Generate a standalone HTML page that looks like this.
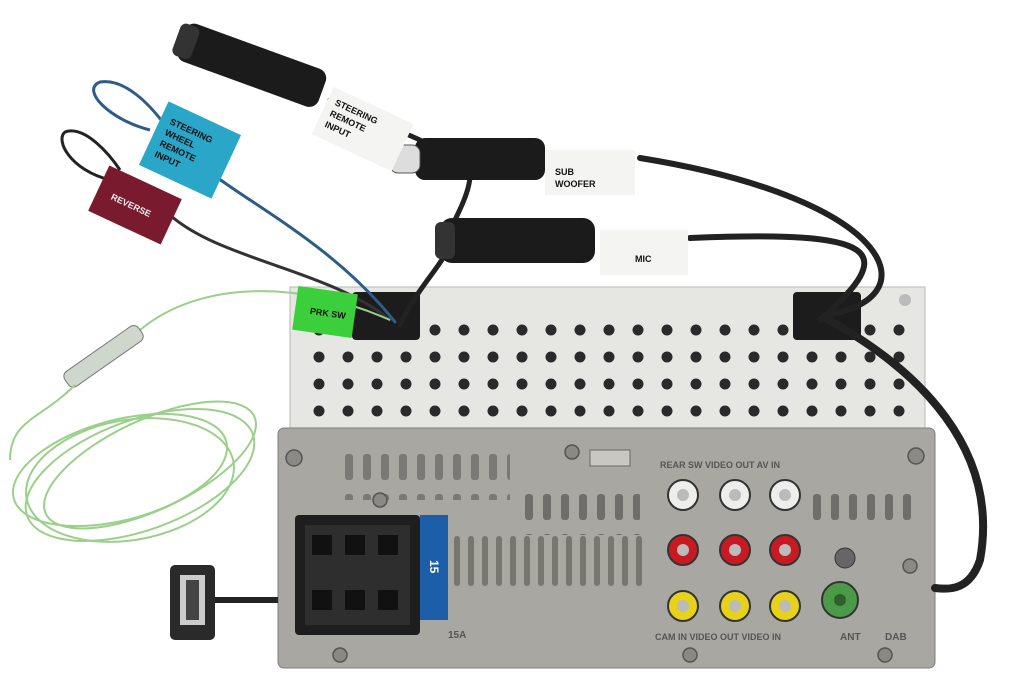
<!DOCTYPE html>
<html><head><meta charset="utf-8"><style>
html,body{margin:0;padding:0;background:#fff;}
svg{display:block}
text{font-family:"Liberation Sans",sans-serif;font-weight:bold}
</style></head><body>
<svg width="1020" height="700" viewBox="0 0 1020 700" xmlns="http://www.w3.org/2000/svg">
<defs>
<pattern id="holes" x="305" y="318" width="29" height="27" patternUnits="userSpaceOnUse">
<circle cx="14" cy="12" r="5.5" fill="#2a2a2a"/>
</pattern>
<pattern id="slots" x="520" y="490" width="18" height="40" patternUnits="userSpaceOnUse">
<rect x="5" y="4" width="8" height="26" rx="3" fill="#6f6e6a"/>
</pattern>
<pattern id="slots2" x="450" y="530" width="14" height="60" patternUnits="userSpaceOnUse">
<rect x="4" y="6" width="6" height="50" rx="3" fill="#77766f"/>
</pattern>
</defs>

<!-- upper chassis -->
<rect x="290" y="287" width="635" height="148" fill="#e6e6e3" stroke="#b8b8b4"/>
<rect x="300" y="312" width="615" height="118" fill="url(#holes)"/>
<rect x="352" y="292" width="68" height="48" rx="4" fill="#1c1c1c"/>
<rect x="793" y="292" width="68" height="48" rx="4" fill="#1c1c1c"/>
<circle cx="905" cy="300" r="6" fill="#bbb"/>

<!-- lower panel -->
<rect x="278" y="428" width="657" height="240" rx="6" fill="#a8a7a2" stroke="#7f7e7a"/>
<rect x="340" y="440" width="170" height="60" fill="url(#slots)" opacity=".8"/>
<rect x="520" y="490" width="120" height="45" fill="url(#slots)"/>
<rect x="450" y="535" width="200" height="60" fill="url(#slots2)"/>
<rect x="810" y="480" width="110" height="45" fill="url(#slots)"/>
<g fill="#8a8984" stroke="#555" stroke-width="1.5">
<circle cx="294" cy="458" r="8"/><circle cx="916" cy="456" r="8"/><circle cx="340" cy="655" r="7"/>
<circle cx="690" cy="655" r="7"/><circle cx="885" cy="655" r="7"/><circle cx="572" cy="452" r="7"/>
<circle cx="380" cy="500" r="7"/><circle cx="910" cy="566" r="7"/>
</g>
<rect x="590" y="450" width="40" height="16" fill="#c8c7c2" stroke="#6a6964"/>
<text x="660" y="468" font-size="9" fill="#555">REAR SW VIDEO OUT AV IN</text>
<text x="655" y="640" font-size="9" fill="#555">CAM IN VIDEO OUT VIDEO IN</text>
<text x="840" y="640" font-size="10" fill="#555">ANT</text>
<text x="885" y="640" font-size="10" fill="#555">DAB</text>
<text x="448" y="638" font-size="10" fill="#555">15A</text>

<!-- ISO block -->
<rect x="295" y="515" width="125" height="120" rx="4" fill="#1e1e1e"/>
<rect x="305" y="525" width="105" height="100" fill="#2e2e2e"/>
<g fill="#111"><rect x="312" y="535" width="20" height="20"/><rect x="345" y="535" width="20" height="20"/><rect x="378" y="535" width="20" height="20"/>
<rect x="312" y="590" width="20" height="20"/><rect x="345" y="590" width="20" height="20"/><rect x="378" y="590" width="20" height="20"/></g>
<rect x="420" y="515" width="28" height="105" fill="#1c5fa8"/>
<text x="430" y="560" font-size="12" fill="#fff" transform="rotate(90 430 560)">15</text>

<!-- RCA -->
<g stroke="#333" stroke-width="2">
<g fill="#eeeeea"><circle cx="683" cy="495" r="15"/><circle cx="735" cy="495" r="15"/><circle cx="785" cy="495" r="15"/></g>
<g fill="#c81a22"><circle cx="683" cy="550" r="15"/><circle cx="735" cy="550" r="15"/><circle cx="785" cy="550" r="15"/></g>
<g fill="#e6d21a"><circle cx="683" cy="606" r="15"/><circle cx="735" cy="606" r="15"/><circle cx="785" cy="606" r="15"/></g>
</g>
<g fill="#bbb"><circle cx="683" cy="495" r="6"/><circle cx="735" cy="495" r="6"/><circle cx="785" cy="495" r="6"/>
<circle cx="683" cy="550" r="6"/><circle cx="735" cy="550" r="6"/><circle cx="785" cy="550" r="6"/>
<circle cx="683" cy="606" r="6"/><circle cx="735" cy="606" r="6"/><circle cx="785" cy="606" r="6"/></g>
<circle cx="840" cy="600" r="18" fill="#4a9a48" stroke="#333" stroke-width="2"/>
<circle cx="840" cy="600" r="6" fill="#2d5e2c"/>
<circle cx="845" cy="558" r="10" fill="#666" stroke="#333"/>

<!-- USB -->
<path d="M215 600 L278 600" stroke="#222" stroke-width="6"/>
<rect x="170" y="565" width="45" height="75" rx="5" fill="#2a2a2a"/>
<rect x="180" y="575" width="25" height="50" fill="#ccc"/>
<rect x="186" y="580" width="13" height="40" fill="#444"/>

<!-- cables -->
<g fill="none" stroke="#222" stroke-linecap="round">
<path d="M825 315 C 930 300, 900 200, 640 158" stroke-width="6"/>
<path d="M820 320 C 900 250, 880 230, 690 238" stroke-width="6"/>
<path d="M825 318 C 920 370, 1000 450, 980 560 C 970 590, 950 590, 935 588" stroke-width="8"/>
<path d="M400 325 C 420 280, 460 250, 450 230" stroke-width="5"/>
<path d="M450 230 C 460 210, 470 190, 470 175" stroke-width="5"/>
<path d="M390 320 C 330 270, 220 260, 170 215" stroke="#333" stroke-width="3"/>
<path d="M395 322 C 330 240, 240 200, 195 160" stroke="#2d5c88" stroke-width="3"/>
<path d="M330 100 L 420 140" stroke-width="5"/>
</g>
<path d="M390 320 C 300 280, 200 280, 140 330" fill="none" stroke="#9ad08a" stroke-width="2"/>
<!-- loops -->
<path d="M150 130 C 110 120, 80 90, 100 82 C 125 78, 150 105, 165 125" fill="none" stroke="#2d5c88" stroke-width="3"/>
<path d="M110 180 C 70 170, 55 140, 65 132 C 85 125, 110 155, 120 170" fill="none" stroke="#222" stroke-width="3"/>

<!-- plugs -->
<g transform="rotate(20 250 70)"><rect x="175" y="45" width="150" height="40" rx="10" fill="#1b1b1b"/><rect x="170" y="48" width="20" height="34" rx="6" fill="#333"/></g>
<rect x="415" y="138" width="130" height="42" rx="10" fill="#1b1b1b"/>
<rect x="390" y="145" width="30" height="28" rx="8" fill="#ddd" stroke="#555"/>
<rect x="440" y="218" width="155" height="45" rx="12" fill="#1b1b1b"/>
<rect x="435" y="222" width="20" height="37" rx="6" fill="#333"/>
<!-- antenna connector & coil -->
<g transform="rotate(-35 100 360)"><rect x="60" y="350" width="90" height="18" rx="6" fill="#cfd6cc" stroke="#777"/></g>
<g fill="none" stroke="#9ad08a" stroke-width="2">
<ellipse cx="120" cy="470" rx="110" ry="50" transform="rotate(-15 120 470)"/>
<ellipse cx="140" cy="475" rx="120" ry="55" transform="rotate(-20 140 475)"/>
<ellipse cx="130" cy="480" rx="105" ry="60" transform="rotate(-10 130 480)"/>
<ellipse cx="150" cy="465" rx="115" ry="45" transform="rotate(-25 150 465)"/>
<path d="M75 385 C 40 420, 10 420, 10 460"/>
</g>

<!-- tags -->
<g transform="rotate(25 360 130)"><rect x="318" y="102" width="88" height="52" fill="#f4f4f2"/>
<text x="326" y="118" font-size="9" fill="#111">STEERING</text><text x="326" y="130" font-size="9" fill="#111">REMOTE</text><text x="326" y="142" font-size="9" fill="#111">INPUT</text></g>
<rect x="545" y="150" width="90" height="45" fill="#f4f4f2"/>
<text x="555" y="175" font-size="9" fill="#111">SUB</text><text x="555" y="187" font-size="9" fill="#111">WOOFER</text>
<rect x="600" y="230" width="88" height="45" fill="#f4f4f2"/>
<text x="635" y="262" font-size="9" fill="#111">MIC</text>
<g transform="rotate(25 190 150)"><rect x="150" y="115" width="80" height="70" fill="#29a6c8"/>
<text x="160" y="135" font-size="9" fill="#111">STEERING</text><text x="160" y="147" font-size="9" fill="#111">WHEEL</text><text x="160" y="159" font-size="9" fill="#111">REMOTE</text><text x="160" y="171" font-size="9" fill="#111">INPUT</text></g>
<g transform="rotate(25 135 205)"><rect x="95" y="180" width="80" height="50" fill="#7a1a2e"/>
<text x="110" y="210" font-size="9" fill="#eee">REVERSE</text></g>
<g transform="rotate(8 325 312)"><rect x="295" y="290" width="60" height="44" fill="#3ccf3c"/>
<text x="310" y="316" font-size="9" fill="#111">PRK SW</text></g>
</svg>
</body></html>
